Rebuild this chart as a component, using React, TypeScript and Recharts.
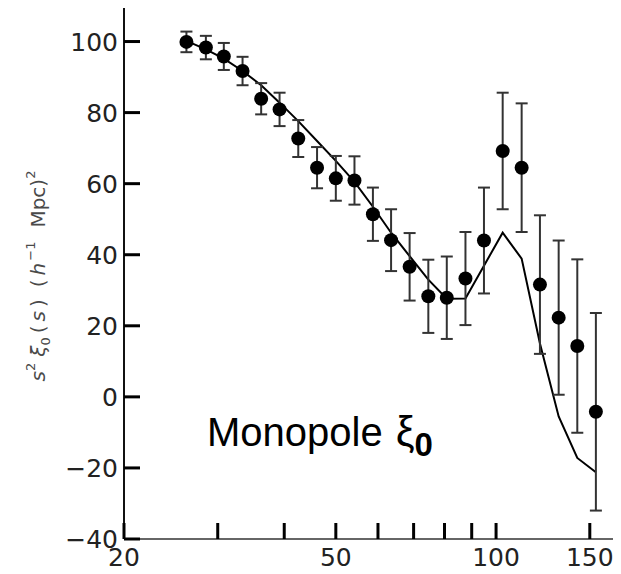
import React from 'react';
import { ComposedChart, Line, Scatter, ErrorBar, XAxis, YAxis, Label } from 'recharts';

const sValues = [26.2, 28.5, 30.8, 33.4, 36.2, 39.2, 42.5, 46.1, 50.0, 54.2, 58.7, 63.5, 68.8, 74.6, 80.8, 87.6, 94.9, 102.9, 111.7, 120.9, 131.1, 142.1, 154.0];
const xiValues = [99.9, 98.3, 95.8, 91.7, 83.9, 80.9, 72.7, 64.5, 61.5, 60.9, 51.4, 44.1, 36.6, 28.3, 27.9, 33.3, 44.0, 69.2, 64.5, 31.6, 22.3, 14.3, -4.2];
const errValues = [2.9, 3.3, 3.8, 4.0, 4.4, 4.7, 5.2, 5.8, 6.3, 6.8, 7.5, 8.7, 9.5, 10.3, 11.6, 13.1, 14.9, 16.4, 18.1, 19.5, 21.7, 24.4, 27.8];
const modelValues = [100.2, 97.8, 95.2, 91.7, 87.7, 82.8, 77.6, 72.0, 66.4, 60.5, 53.5, 46.2, 39.6, 33.0, 27.6, 27.7, 36.9, 46.2, 38.9, 15.0, -5.5, -17.2, -21.2];

const xTicks = [20, 30, 40, 50, 60, 70, 80, 90, 100, 150];
const xTickLabels = [20, 50, 100, 150];
const yTicks = [-40, -20, 0, 20, 40, 60, 80, 100];

const data = sValues.map((s, i) => ({ s, xi: xiValues[i], err: errValues[i], model: modelValues[i] }));

const TICK_LEN = 16;
const tickFont = { fontFamily: 'DejaVu Sans', fontSize: 25, fill: '#222' };

const XTick = (props: any) => {
  const { x, y, payload } = props;
  const v = payload.value;
  return (
    <g>
      <line x1={x} y1={y} x2={x} y2={y - TICK_LEN} stroke="#000" strokeWidth={3} />
      {xTickLabels.includes(v) && (
        <text x={x} y={y + 27} textAnchor="middle" {...tickFont}>{String(v)}</text>
      )}
    </g>
  );
};

const YTick = (props: any) => {
  const { x, y, payload } = props;
  const v = payload.value;
  return (
    <g>
      <line x1={x} y1={y} x2={x + TICK_LEN} y2={y} stroke="#000" strokeWidth={3} />
      <text x={x - 6} y={y + 9} textAnchor="end" {...tickFont}>{v < 0 ? '\u2212' + Math.abs(v) : String(v)}</text>
    </g>
  );
};

const Dot = (props: any) => <circle cx={props.cx} cy={props.cy} r={7} fill="#000" />;

const YLabel = () => (
  <text
    transform="translate(45,276) rotate(-90)"
    textAnchor="middle"
    fontFamily="DejaVu Sans"
    fontSize={20}
    fill="#4a4a4a"
  >
    <tspan fontStyle="italic">s</tspan>
    <tspan fontSize={13} dy={-10}>2</tspan>
    <tspan dy={10} dx={6} fontStyle="italic">ξ</tspan>
    <tspan fontSize={13} dy={5}>0</tspan>
    <tspan dy={-5} dx={4}>(</tspan>
    <tspan dx={4} fontStyle="italic">s</tspan>
    <tspan dx={4}>)</tspan>
    <tspan dx={12}>(</tspan>
    <tspan dx={4} fontStyle="italic">h</tspan>
    <tspan fontSize={13} dy={-10} dx={2}>−1</tspan>
    <tspan dy={10} dx={14}>Mpc)</tspan>
    <tspan fontSize={13} dy={-10}>2</tspan>
  </text>
);

export default function App() {
  return (
    <div style={{ margin: -8, position: 'relative', width: 621, height: 574, background: '#fff' }}>
      <ComposedChart width={621} height={574} data={data} margin={{ top: 6, right: 5, bottom: 0, left: 0 }}>
        <XAxis
          dataKey="s"
          type="number"
          scale="log"
          domain={[20, 168]}
          ticks={xTicks}
          allowDataOverflow
          height={35}
          tickSize={0}
          tickMargin={0}
          tickLine={false}
          tick={<XTick />}
          interval={0}
          axisLine={{ stroke: '#333', strokeWidth: 1.5 }}
        />
        <YAxis
          type="number"
          domain={[-40, 110]}
          ticks={yTicks}
          allowDataOverflow
          width={124}
          tickSize={0}
          tickMargin={0}
          tickLine={false}
          tick={<YTick />}
          interval={0}
          axisLine={{ stroke: '#111', strokeWidth: 2 }}
        >
          <Label content={<YLabel />} />
        </YAxis>
        <Line dataKey="model" type="linear" stroke="#000" strokeWidth={2} dot={false} isAnimationActive={false} />
        <Scatter dataKey="xi" shape={<Dot />} isAnimationActive={false}>
          <ErrorBar dataKey="err" direction="y" width={6} stroke="#333" strokeWidth={2} />
        </Scatter>
      </ComposedChart>
      <div
        style={{
          position: 'absolute',
          left: 124,
          top: 5,
          width: 493,
          height: 535,
          boxSizing: 'border-box',
          borderTop: '2px solid #333',
          borderRight: '2px solid #333',
          pointerEvents: 'none',
        }}
      />
      <div
        style={{
          position: 'absolute',
          left: 207,
          top: 408,
          fontFamily: 'Liberation Sans, Arial, sans-serif',
          fontSize: 40,
          color: '#000',
          whiteSpace: 'nowrap',
          lineHeight: '48px',
        }}
      >
        Monopole <span style={{ fontSize: 42, marginLeft: 2 }}>ξ</span>
        <span style={{ fontWeight: 'bold', fontSize: 33, position: 'relative', top: 10 }}>0</span>
      </div>
    </div>
  );
}
